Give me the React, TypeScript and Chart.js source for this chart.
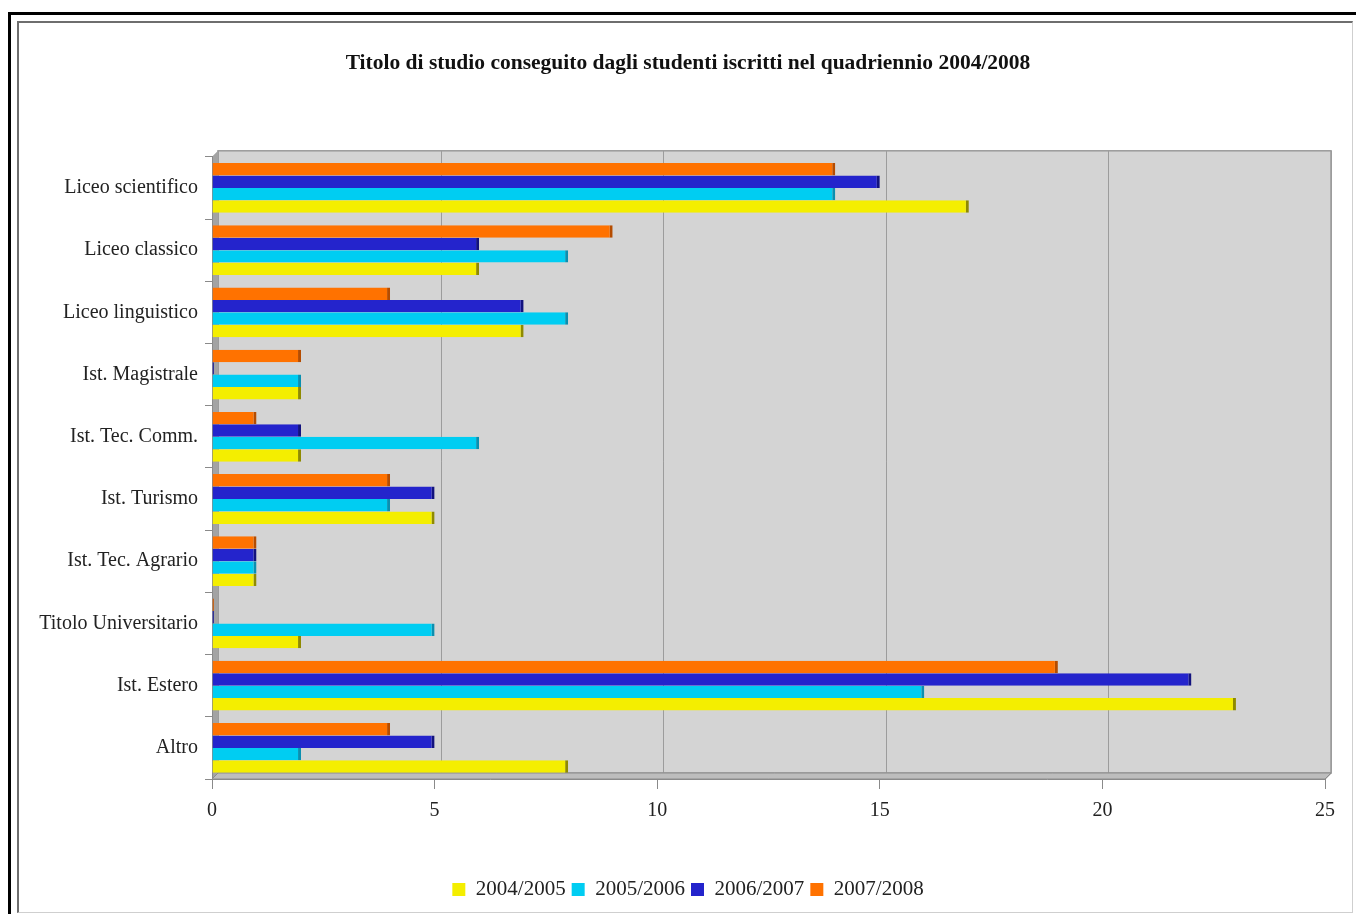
import React, { useEffect, useRef } from "react";
import { Chart, registerables } from "chart.js";

Chart.register(...registerables);

const titleText = "Titolo di studio conseguito dagli studenti iscritti nel quadriennio 2004/2008";

const categories = [
  "Liceo scientifico",
  "Liceo classico",
  "Liceo linguistico",
  "Ist. Magistrale",
  "Ist. Tec. Comm.",
  "Ist. Turismo",
  "Ist. Tec. Agrario",
  "Titolo Universitario",
  "Ist. Estero",
  "Altro",
];

const seriesLabels = ["2004/2005", "2005/2006", "2006/2007", "2007/2008"];

const values0405 = [17, 6, 7, 2, 2, 5, 1, 2, 23, 8];
const values0506 = [14, 8, 8, 2, 6, 4, 1, 5, 16, 2];
const values0607 = [15, 6, 7, 0, 2, 5, 1, 0, 22, 5];
const values0708 = [14, 9, 4, 2, 1, 4, 1, 0, 19, 4];

const seriesValues = [values0405, values0506, values0607, values0708];

const xTicks = [0, 5, 10, 15, 20, 25];

const fillColors = ["#f4ee00", "#00cdf2", "#2424cc", "#ff7200"];
const capColors = ["#8f8a00", "#0a8fb0", "#12127e", "#b54c00"];

const FONT = "'Liberation Serif', 'DejaVu Serif', serif";
const DEPTH = 6;
const CENTER_SHIFT = 21;

const depthPlugin = {
  id: "depth3d",
  afterLayout(chart: any) {
    // centre title and legend on the whole frame like the original
    if (chart.titleBlock) chart.titleBlock.left += CENTER_SHIFT;
    if (chart.legend) chart.legend.left += CENTER_SHIFT;
  },
  beforeDraw(chart: any) {
    const { ctx, chartArea: a, scales } = chart;
    const x = scales.x;
    const d = DEPTH;
    ctx.save();
    // back wall
    ctx.fillStyle = "#d4d4d4";
    ctx.fillRect(a.left + d, a.top - d, a.right - a.left, a.bottom - a.top);
    ctx.strokeStyle = "#9a9a9a";
    ctx.lineWidth = 1.5;
    ctx.strokeRect(a.left + d, a.top - d, a.right - a.left, a.bottom - a.top);
    // grid lines on back wall and floor
    ctx.lineWidth = 1;
    ctx.strokeStyle = "#9c9c9c";
    xTicks.forEach((v) => {
      const px = Math.round(x.getPixelForValue(v)) + 0.5;
      ctx.beginPath();
      ctx.moveTo(px + d, a.top - d);
      ctx.lineTo(px + d, a.bottom - d);
      ctx.lineTo(px, a.bottom);
      ctx.stroke();
    });
    // left wall
    ctx.fillStyle = "#a3a3a3";
    ctx.beginPath();
    ctx.moveTo(a.left, a.top);
    ctx.lineTo(a.left + d, a.top - d);
    ctx.lineTo(a.left + d, a.bottom - d);
    ctx.lineTo(a.left, a.bottom);
    ctx.closePath();
    ctx.fill();
    // floor
    ctx.fillStyle = "#bdbdbd";
    ctx.beginPath();
    ctx.moveTo(a.left, a.bottom);
    ctx.lineTo(a.left + d, a.bottom - d);
    ctx.lineTo(a.right + d, a.bottom - d);
    ctx.lineTo(a.right, a.bottom);
    ctx.closePath();
    ctx.fill();
    ctx.strokeStyle = "#8c8c8c";
    ctx.stroke();
    ctx.restore();
  },
};

export default function App() {
  const ref = useRef<HTMLCanvasElement>(null);

  useEffect(() => {
    if (!ref.current) return;
    const order = [3, 2, 1, 0];
    const chart = new Chart(ref.current, {
      type: "bar",
      data: {
        labels: categories,
        datasets: order.map((i) => ({
          label: seriesLabels[i],
          data: seriesValues[i],
          backgroundColor: fillColors[i],
          borderColor: capColors[i],
          borderWidth: { top: 0, bottom: 0, left: 0, right: 3 },
          borderSkipped: "start",
          categoryPercentage: 0.8,
          barPercentage: 1,
          minBarLength: 2,
        })),
      },
      options: {
        responsive: false,
        animation: false,
        indexAxis: "y",
        layout: { padding: { left: 30, right: 31, top: 22, bottom: 4 } },
        plugins: {
          title: {
            display: true,
            text: titleText,
            color: "#111",
            font: { family: FONT, size: 21.5, weight: "bold" },
            padding: { top: 29, bottom: 80 },
          },
          legend: {
            position: "bottom",
            reverse: true,
            labels: {
              boxWidth: 13,
              boxHeight: 13,
              padding: 6,
              color: "#222",
              font: { family: FONT, size: 21 },
              generateLabels: (c: any) => {
                const items = Chart.defaults.plugins.legend.labels.generateLabels(c);
                return items.map((it: any) => ({
                  ...it,
                  lineWidth: 0,
                  strokeStyle: it.fillStyle,
                }));
              },
            },
          },
          tooltip: { enabled: false },
        },
        scales: {
          x: {
            min: 0,
            max: 25,
            afterBuildTicks: (s: any) => {
              s.ticks = xTicks.map((v) => ({ value: v }));
            },
            ticks: {
              color: "#222",
              font: { family: FONT, size: 20 },
              padding: 10,
            },
            grid: {
              drawOnChartArea: false,
              drawTicks: true,
              tickLength: 10,
              color: "#8a8a8a",
            },
            border: { display: true, color: "#8a8a8a" },
            afterFit: (s: any) => {
              s.height = 94;
            },
          },
          y: {
            ticks: {
              color: "#222",
              font: { family: FONT, size: 20 },
              padding: 7,
              autoSkip: false,
            },
            grid: {
              drawOnChartArea: false,
              drawTicks: true,
              tickLength: 7,
              color: "#8a8a8a",
              offset: true,
            },
            border: { display: true, color: "#8a8a8a" },
            afterFit: (s: any) => {
              s.width = 182;
            },
          },
        },
      },
      plugins: [depthPlugin],
    } as any);
    return () => chart.destroy();
  }, []);

  return (
    <div
      style={{
        position: "fixed",
        left: 0,
        top: 0,
        width: 1356,
        height: 914,
        background: "#fff",
        overflow: "hidden",
      }}
    >
      <canvas
        ref={ref}
        width={1356}
        height={914}
        style={{ position: "absolute", left: 0, top: 0, width: 1356, height: 914 }}
      />
      <div
        style={{
          position: "absolute",
          left: 8,
          top: 12,
          width: 1360,
          height: 910,
          borderTop: "3px solid #000",
          borderLeft: "3px solid #000",
          pointerEvents: "none",
        }}
      />
      <div
        style={{
          position: "absolute",
          left: 17,
          top: 21,
          width: 1333,
          height: 889,
          borderTop: "2px solid #6e6e6e",
          borderLeft: "2px solid #6e6e6e",
          borderRight: "1px solid #cfcfcf",
          borderBottom: "1px solid #cfcfcf",
          pointerEvents: "none",
        }}
      />
    </div>
  );
}
